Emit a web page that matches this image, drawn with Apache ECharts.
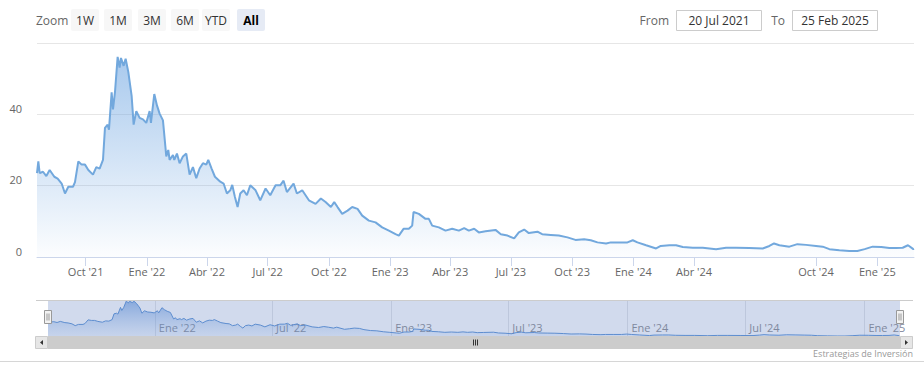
<!DOCTYPE html>
<html>
<head>
<meta charset="utf-8">
<script src="https://cdn.jsdelivr.net/npm/echarts@6/dist/echarts.min.js"></script>
<style>
html,body{margin:0;padding:0;background:#fff;}
#chart{width:924px;height:376px;}
</style>
</head>
<body>
<div id="chart"></div>
<script>
const dates = [
'2021-07-20','2021-07-22','2021-07-24','2021-07-29','2021-08-03','2021-08-08','2021-08-15','2021-08-20','2021-08-26','2021-08-31',
'2021-09-05','2021-09-12','2021-09-15','2021-09-20','2021-09-25','2021-09-30','2021-10-05','2021-10-12','2021-10-17','2021-10-22',
'2021-10-27','2021-10-30','2021-11-03','2021-11-05','2021-11-09','2021-11-11','2021-11-14','2021-11-18','2021-11-21','2021-11-23',
'2021-11-27','2021-11-30','2021-12-04','2021-12-09','2021-12-12','2021-12-16','2021-12-21','2021-12-26','2021-12-31','2022-01-05',
'2022-01-07','2022-01-12','2022-01-16','2022-01-20','2022-01-25','2022-01-30','2022-02-02','2022-02-04','2022-02-09','2022-02-11',
'2022-02-15','2022-02-19','2022-02-24','2022-03-01','2022-03-06','2022-03-11','2022-03-16','2022-03-21','2022-03-26','2022-03-31',
'2022-04-03','2022-04-08','2022-04-13','2022-04-21','2022-04-26','2022-05-01','2022-05-06','2022-05-09','2022-05-13','2022-05-17',
'2022-05-21','2022-05-26','2022-05-31','2022-06-05','2022-06-13','2022-06-20','2022-06-28','2022-07-05','2022-07-13','2022-07-20',
'2022-07-25','2022-07-30','2022-08-09','2022-08-14','2022-08-22','2022-09-01','2022-09-11','2022-09-19','2022-09-26','2022-10-04',
'2022-10-09','2022-10-14','2022-10-21','2022-10-29','2022-11-05','2022-11-13','2022-11-20','2022-11-30','2022-12-10','2022-12-20',
'2022-12-30','2023-01-09','2023-01-14','2023-01-21','2023-01-29','2023-02-03','2023-02-05','2023-02-13','2023-02-23','2023-02-28',
'2023-03-05','2023-03-15','2023-03-25','2023-04-04','2023-04-14','2023-04-22','2023-04-29','2023-05-07','2023-05-14','2023-05-24',
'2023-06-08','2023-06-16','2023-06-26','2023-07-06','2023-07-13','2023-07-21','2023-07-28','2023-08-10','2023-08-17','2023-08-30',
'2023-09-11','2023-09-24','2023-10-06','2023-10-19','2023-10-29','2023-11-08','2023-11-21','2023-11-28','2023-12-11','2023-12-23',
'2023-12-31','2024-01-07','2024-01-20','2024-02-04','2024-02-11','2024-02-24','2024-03-05','2024-03-15','2024-03-30','2024-04-14',
'2024-05-04','2024-05-19','2024-06-03','2024-06-23','2024-07-13','2024-07-23','2024-07-30','2024-08-07','2024-08-22','2024-09-03',
'2024-09-16','2024-10-01','2024-10-11','2024-10-21','2024-11-05','2024-11-20','2024-12-02','2024-12-13','2024-12-25','2025-01-07',
'2025-01-19','2025-01-29','2025-02-08','2025-02-16','2025-02-24','2025-02-25'
];
const values = [
23.5,26.8,23.5,23.9,22.7,24.4,22.5,22.0,20.6,17.8,
19.7,19.7,21.0,26.8,25.9,25.9,24.4,23.1,25.2,24.8,
27.2,36.2,37.1,35.7,46.2,41.4,46.2,56.1,53.1,55.8,
53.6,55.6,51.9,45.2,37.1,40.9,39.0,38.6,37.6,40.9,
37.6,45.7,42.5,40.2,38.3,28.2,30.0,27.2,28.6,27.2,
29.0,26.3,28.2,29.0,23.1,25.2,22.1,24.8,26.3,25.9,
27.2,24.8,22.5,21.1,20.6,17.8,18.7,20.2,16.8,14.0,
17.8,18.7,17.3,20.1,18.7,15.9,19.2,17.3,20.1,20.1,
21.4,18.2,20.6,17.8,18.7,15.9,14.9,16.4,15.4,14.0,
15.4,14.0,12.1,13.0,14.0,13.5,11.6,10.2,9.7,8.3,
7.4,6.4,6.0,7.9,7.9,8.8,12.6,12.1,10.7,10.7,
8.8,8.3,7.4,7.9,7.4,8.1,7.4,7.9,6.9,7.2,
7.6,6.4,6.0,5.2,6.9,7.7,6.7,7.1,6.4,6.2,
6.0,5.5,4.8,5.0,4.7,4.1,3.8,4.1,4.1,4.1,
4.7,4.1,3.3,2.4,3.1,3.3,3.3,2.8,2.6,2.6,
2.2,2.6,2.6,2.5,2.4,3.1,3.8,3.3,2.9,3.6,
3.4,3.1,2.9,2.2,1.9,1.7,1.7,2.2,2.9,2.8,
2.5,2.5,2.6,3.3,2.2,2.3
];
const yTicks = [0, 20, 40, 60];
const xTickDates = ['2021-10-01','2022-01-01','2022-04-01','2022-07-01','2022-10-01','2023-01-01','2023-04-01','2023-07-01','2023-10-01','2024-01-01','2024-04-01','2024-10-01','2025-01-01'];
const xTickLabels = ["Oct '21","Ene '22","Abr '22","Jul '22","Oct '22","Ene '23","Abr '23","Jul '23","Oct '23","Ene '24","Abr '24","Oct '24","Ene '25"];
const navTickDates = ['2022-01-01','2022-07-01','2023-01-01','2023-07-01','2024-01-01','2024-07-01','2025-01-01'];
const navTickLabels = ["Ene '22","Jul '22","Ene '23","Jul '23","Ene '24","Jul '24","Ene '25"];
const rangeStart = '2021-07-20';
const rangeEnd = '2025-02-25';
const zoomButtons = ['1W','1M','3M','6M','YTD','All'];
const fromText = '20 Jul 2021';
const toText = '25 Feb 2025';
const creditText = 'Estrategias de Inversión';

function ts(s){ const p = s.split('-').map(Number); return Date.UTC(p[0], p[1]-1, p[2]); }
const seriesData = dates.map((d,i)=>[ts(d), values[i]]);
const xTickTs = xTickDates.map(ts);
const xLabelMap = new Map(xTickTs.map((t,i)=>[t, xTickLabels[i]]));
const navTickTs = navTickDates.map(ts);
const navLabelMap = new Map(navTickTs.map((t,i)=>[t, navTickLabels[i]]));

const FONT = '"Open Sans", "DejaVu Sans", sans-serif';

const btnX = [71, 104, 138, 171, 202, 237];
const graphics = [];
graphics.push({type:'text', style:{text:'Zoom', x:36, y:20, textVerticalAlign:'middle', fill:'#666', font:'12px '+FONT}});
zoomButtons.forEach((b,i)=>{
  const sel = b === 'All';
  graphics.push({type:'rect', shape:{x:btnX[i], y:9, width:28, height:22, r:2}, style:{fill: sel ? '#e6ebf5' : '#f7f7f7'}});
  graphics.push({type:'text', style:{text:b, x:btnX[i]+14, y:20, textAlign:'center', textVerticalAlign:'middle', fill: sel ? '#000' : '#333', font:(sel?'bold ':'')+'12px '+FONT}});
});
graphics.push({type:'text', style:{text:'From', x:669, y:20, textAlign:'right', textVerticalAlign:'middle', fill:'#666', font:'12px '+FONT}});
graphics.push({type:'rect', shape:{x:676.5, y:10.5, width:85, height:20}, style:{fill:'#fff', stroke:'#cccccc', lineWidth:1}});
graphics.push({type:'text', style:{text:fromText, x:719, y:20.5, textAlign:'center', textVerticalAlign:'middle', fill:'#333', font:'12px '+FONT}});
graphics.push({type:'text', style:{text:'To', x:785, y:20, textAlign:'right', textVerticalAlign:'middle', fill:'#666', font:'12px '+FONT}});
graphics.push({type:'rect', shape:{x:792.5, y:10.5, width:85, height:20}, style:{fill:'#fff', stroke:'#cccccc', lineWidth:1}});
graphics.push({type:'text', style:{text:toText, x:835, y:20.5, textAlign:'center', textVerticalAlign:'middle', fill:'#333', font:'12px '+FONT}});
graphics.push({type:'line', shape:{x1:36, y1:300.5, x2:913, y2:300.5}, style:{stroke:'#cccccc', lineWidth:1}, z:20});
[48, 900].forEach(hx=>{
  graphics.push({type:'rect', shape:{x:hx-3.5, y:310.5, width:7, height:13}, style:{fill:'#f2f2f2', stroke:'#999', lineWidth:1}, z:30});
  graphics.push({type:'line', shape:{x1:hx-1, y1:313.5, x2:hx-1, y2:320.5}, style:{stroke:'#999', lineWidth:1}, z:31});
  graphics.push({type:'line', shape:{x1:hx+1, y1:313.5, x2:hx+1, y2:320.5}, style:{stroke:'#999', lineWidth:1}, z:31});
});
graphics.push({type:'rect', shape:{x:36, y:336, width:877, height:13}, style:{fill:'#f2f2f2'}, z:20});
graphics.push({type:'rect', shape:{x:48, y:336, width:852, height:13}, style:{fill:'#cccccc'}, z:21});
graphics.push({type:'rect', shape:{x:35.5, y:336.5, width:12, height:12}, style:{fill:'#e6e6e6', stroke:'#cccccc', lineWidth:1}, z:22});
graphics.push({type:'rect', shape:{x:900.5, y:336.5, width:12, height:12}, style:{fill:'#e6e6e6', stroke:'#cccccc', lineWidth:1}, z:22});
graphics.push({type:'polygon', shape:{points:[[40,342.5],[43,340],[43,345]]}, style:{fill:'#333'}, z:23});
graphics.push({type:'polygon', shape:{points:[[908,342.5],[905,340],[905,345]]}, style:{fill:'#333'}, z:23});
[473, 475, 477].forEach(gx=>{
  graphics.push({type:'line', shape:{x1:gx+0.5, y1:339.5, x2:gx+0.5, y2:345.5}, style:{stroke:'#333', lineWidth:1}, z:23});
});
graphics.push({type:'line', shape:{x1:0, y1:361.5, x2:924, y2:361.5}, style:{stroke:'#d6d6d6', lineWidth:1}});
graphics.push({type:'text', style:{text:creditText, x:913, y:353, textAlign:'right', textVerticalAlign:'middle', fill:'#999', font:'9px '+FONT}});

const chart = echarts.init(document.getElementById('chart'), null, {renderer:'svg'});
chart.setOption({
  animation:false,
  backgroundColor:'#fff',
  textStyle:{fontFamily:FONT},
  grid:[
    {left:37, right:10, top:43, bottom:119, containLabel:false},
    {left:48, right:24, top:301, height:35, show:true, backgroundColor:'#d1daed', borderWidth:0}
  ],
  xAxis:[
    {type:'value', gridIndex:0, min:ts(rangeStart), max:ts(rangeEnd), scale:true,
     axisLine:{show:true, lineStyle:{color:'#ccd6eb', width:1}},
     axisTick:{show:true, length:9, lineStyle:{color:'#ccd6eb'}, customValues:xTickTs},
     axisLabel:{customValues:xTickTs, formatter:(v)=>xLabelMap.get(v) || '', color:'#666', fontSize:11, margin:9, fontFamily:FONT, hideOverlap:false},
     splitLine:{show:false}},
    {type:'value', gridIndex:1, min:ts(rangeStart), max:ts(rangeEnd), scale:true,
     axisLine:{show:false}, axisTick:{show:false, customValues:navTickTs},
     axisLabel:{customValues:navTickTs, formatter:(v)=>navLabelMap.get(v) || '', inside:true, align:'left', verticalAlign:'bottom', padding:[0,0,0,4], margin:3, color:'#7f899e', fontSize:11, fontFamily:FONT, hideOverlap:false},
     splitLine:{show:true, lineStyle:{color:'#bdc7dc', width:1}}}
  ],
  yAxis:[
    {type:'value', gridIndex:0, min:yTicks[0], max:yTicks[yTicks.length-1], interval:20,
     axisLine:{show:false}, axisTick:{show:false},
     axisLabel:{color:'#666', fontSize:11, margin:15, fontFamily:FONT, verticalAlign:'bottom', lineHeight:12, formatter:(v)=> v === yTicks[yTicks.length-1] ? '' : String(v)},
     splitLine:{show:true, lineStyle:{color:'#e6e6e6', width:1}}},
    {type:'value', gridIndex:1, min:'dataMin', max:'dataMax', show:false, splitLine:{show:false}}
  ],
  series:[
    {type:'line', xAxisIndex:0, yAxisIndex:0, data:seriesData, showSymbol:false, symbol:'none',
     lineStyle:{color:'#72a8dd', width:2},
     areaStyle:{color:new echarts.graphic.LinearGradient(0,0,0,1,[
        {offset:0, color:'rgba(110,165,225,0.85)'},
        {offset:1, color:'rgba(110,165,225,0.03)'}])},
     silent:true},
    {type:'line', xAxisIndex:1, yAxisIndex:1, data:seriesData, showSymbol:false, symbol:'none',
     lineStyle:{color:'#5d8dcf', width:1},
     areaStyle:{color:new echarts.graphic.LinearGradient(0,0,0,1,[
        {offset:0, color:'rgba(70,125,205,0.75)'},
        {offset:1, color:'rgba(110,155,220,0.15)'}])},
     silent:true}
  ],
  graphic:graphics
});
</script>
</body>
</html>
